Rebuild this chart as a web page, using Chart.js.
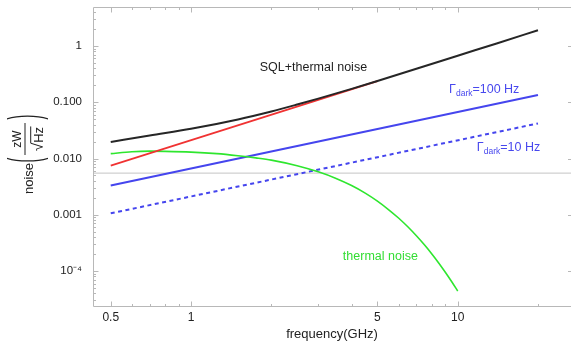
<!DOCTYPE html>
<html><head><meta charset="utf-8">
<script src="https://cdn.jsdelivr.net/npm/chart.js@4"></script>
<style>html,body{margin:0;padding:0;background:#fff}#wrap{width:571px;height:342px;position:relative}</style>
</head><body><div id="wrap"><canvas id="c" width="571" height="342"></canvas></div>
<script>
const FONT = '"Liberation Sans", Arial, Helvetica, sans-serif';

// axis ranges: frequency (GHz), noise (zW/sqrt(Hz))
const freqMin = 0.429, freqMax = 26.6;
const noiseMin = 2.39e-5, noiseMax = 4.93;

const freqTicks = [0.5, 1, 5, 10];
const freqTickLabels = ['0.5', '1', '5', '10'];
const freqMinorTicks = [0.6, 0.7, 0.8, 0.9, 2, 3, 4, 6, 7, 8, 9, 20];
const noiseTicks = [1e-4, 1e-3, 0.01, 0.1, 1];
const noiseTickLabels = ['10⁻⁴', '0.001', '0.010', '0.100', '1'];

// SQL + thermal noise (black)
const freqTotal = [0.5, 0.7, 1.0, 1.5, 2.0, 2.5, 3.0, 4.0, 5.0, 7.0, 10, 14, 20];
const totalNoise = [0.0197, 0.0257, 0.0337, 0.0494, 0.0685, 0.0910, 0.116, 0.173, 0.239, 0.393, 0.671, 1.11, 1.90];
// SQL (red)
const freqSQL = [0.5, 5];
const sqlNoise = [0.0075, 0.237];
// thermal noise (green)
const freqThermal = [0.5, 0.6, 0.7, 0.8, 1.0, 1.25, 1.5, 1.75, 2.0, 2.5, 3.0, 3.5, 4.0, 4.5, 5.0, 5.5, 6.0, 6.5, 7.0, 7.5, 8.0, 8.5, 9.0, 9.5, 10];
const thermalNoise = [0.0122, 0.0132, 0.0135, 0.0134, 0.0130, 0.0122, 0.0112, 0.01026, 0.00937, 0.00745, 0.00580, 0.00443, 0.00331, 0.00243, 0.00175, 0.00124, 0.000876, 0.000611, 0.000423, 0.000292, 0.000201, 0.000138, 0.0000943, 0.0000646, 0.000044];
// dark count lines (blue)
const freqDark = [0.5, 20];
const dark100 = [0.0033, 0.135];
const dark10 = [0.00106, 0.042];
// horizontal reference (gray)
const freqRef = [freqMin, freqMax];
const refNoise = [0.0055, 0.0055];

const annotations = [
  { parts: [['SQL+thermal noise', 0]], f: 1.81, n: 0.407, color: '#1e1e1e' },
  { parts: [['Γ', 0], ['dark', 1], ['=100 Hz', 0]], f: 9.28, n: 0.165, color: '#4848ee' },
  { parts: [['Γ', 0], ['dark', 1], ['=10 Hz', 0]], f: 11.8, n: 0.0154, color: '#4848ee' },
  { parts: [['thermal noise', 0]], f: 3.71, n: 1.79e-4, color: '#33dd33' }
];

const pts = (xs, ys) => xs.map((x, i) => ({ x: x, y: ys[i] }));

const framePlugin = {
  id: 'frame',
  afterDraw(chart) {
    const { ctx, chartArea: ca, scales } = chart;
    const xs = scales.x, ys = scales.y;
    ctx.save();
    ctx.strokeStyle = '#b8b8b8';
    ctx.lineWidth = 1;
    const L = Math.round(ca.left) + 0.5, B = Math.round(ca.bottom) + 0.5, T = Math.round(ca.top) + 0.5, R = ca.right;
    ctx.beginPath();
    ctx.moveTo(L, T); ctx.lineTo(L, B);
    ctx.moveTo(L, B); ctx.lineTo(R, B);
    ctx.moveTo(L, T); ctx.lineTo(R, T);
    const xt = (v, len) => {
      const p = Math.round(xs.getPixelForValue(v)) + 0.5;
      ctx.moveTo(p, B); ctx.lineTo(p, B - len);
      ctx.moveTo(p, T); ctx.lineTo(p, T + len);
    };
    freqTicks.forEach(v => xt(v, 5));
    freqMinorTicks.forEach(v => xt(v, 2.5));
    noiseTicks.forEach(v => {
      const p = Math.round(ys.getPixelForValue(v)) + 0.5;
      ctx.moveTo(L, p); ctx.lineTo(L + 5, p);
      ctx.moveTo(R, p); ctx.lineTo(R - 3, p);
    });
    for (let d = -5; d <= 0; d++) {
      for (let k = 2; k <= 9; k++) {
        const v = k * Math.pow(10, d);
        if (v < noiseMin || v > noiseMax) continue;
        const p = Math.round(ys.getPixelForValue(v)) + 0.5;
        ctx.moveTo(L, p); ctx.lineTo(L + 2.5, p);
      }
    }
    ctx.stroke();
    ctx.restore();
  }
};

const yTitlePlugin = {
  id: 'ytitle',
  afterDraw(chart) {
    const ctx = chart.ctx;
    ctx.save();
    ctx.translate(27, 140);
    ctx.rotate(-Math.PI / 2);
    ctx.fillStyle = '#222';
    ctx.textBaseline = 'alphabetic';
    ctx.font = '13px ' + FONT;
    ctx.textAlign = 'right';
    ctx.fillText('noise', -23, 6);
    ctx.textAlign = 'center';
    ctx.font = '44px ' + FONT;
    ctx.save(); ctx.translate(-20, 11.8); ctx.scale(0.33, 1); ctx.fillText('(', 0, 0); ctx.restore();
    ctx.save(); ctx.translate(23, 11.8); ctx.scale(0.33, 1); ctx.fillText(')', 0, 0); ctx.restore();
    ctx.fillRect(-15, -2.5, 32, 1);
    ctx.font = '12px ' + FONT;
    ctx.fillText('zW', 1, -6);
    ctx.textAlign = 'left';
    ctx.font = '15px ' + FONT;
    const wr = ctx.measureText('√').width;
    ctx.font = '13px ' + FONT;
    const wh = ctx.measureText('Hz').width;
    const u0 = 1 - (wr + wh) / 2;
    ctx.font = '15px ' + FONT;
    ctx.fillText('√', u0, 16);
    ctx.font = '13px ' + FONT;
    ctx.fillText('Hz', u0 + wr, 16);
    ctx.fillRect(u0 + wr - 0.5, 3.2, wh + 1, 1);
    ctx.restore();
  }
};

const annotationPlugin = {
  id: 'notes',
  afterDatasetsDraw(chart) {
    const { ctx, scales } = chart;
    ctx.save();
    ctx.textAlign = 'left';
    ctx.textBaseline = 'middle';
    annotations.forEach(a => {
      let x = scales.x.getPixelForValue(a.f);
      const y = scales.y.getPixelForValue(a.n);
      ctx.fillStyle = a.color;
      a.parts.forEach(([t, sub]) => {
        ctx.font = (sub ? '8.5px ' : '12.5px ') + FONT;
        ctx.fillText(t, x, sub ? y + 3.5 : y);
        x += ctx.measureText(t).width;
      });
    });
    ctx.restore();
  }
};

new Chart(document.getElementById('c'), {
  type: 'line',
  data: {
    datasets: [
      { data: pts(freqTotal, totalNoise), borderColor: '#262626', borderWidth: 2, order: 0, cubicInterpolationMode: 'monotone' },
      { data: pts(freqSQL, sqlNoise), borderColor: '#f03232', borderWidth: 1.8, order: 1 },
      { data: pts(freqThermal, thermalNoise), borderColor: '#2ee62e', borderWidth: 1.6, order: 2, cubicInterpolationMode: 'monotone' },
      { data: pts(freqDark, dark100), borderColor: '#4545ee', borderWidth: 2, order: 3 },
      { data: pts(freqDark, dark10), borderColor: '#4545ee', borderWidth: 2, borderDash: [4, 3.5], order: 4 },
      { data: pts(freqRef, refNoise), borderColor: '#c4c4c4', borderWidth: 1, order: 5 }
    ]
  },
  options: {
    responsive: false,
    animation: false,
    layout: { padding: { top: 7, right: 0, left: 0, bottom: 0 } },
    elements: { point: { radius: 0 }, line: { fill: false } },
    plugins: { legend: { display: false }, tooltip: { enabled: false } },
    scales: {
      x: {
        type: 'logarithmic', min: freqMin, max: freqMax, bounds: 'data',
        grid: { display: false, drawTicks: false }, border: { display: false },
        afterBuildTicks: s => { s.ticks = freqTicks.map(v => ({ value: v })); },
        ticks: { autoSkip: false, maxRotation: 0, padding: 4, color: '#222', font: { family: FONT, size: 12 },
          callback: v => freqTickLabels[freqTicks.indexOf(v)] },
        title: { display: true, text: 'frequency(GHz)', color: '#222', font: { family: FONT, size: 13 }, padding: { top: 5, bottom: 0 } },
        afterFit: s => { s.height = 36; s.paddingLeft = 0; s.paddingRight = 0; }
      },
      y: {
        type: 'logarithmic', min: noiseMin, max: noiseMax, bounds: 'data',
        grid: { display: false, drawTicks: false }, border: { display: false },
        afterBuildTicks: s => { s.ticks = noiseTicks.map(v => ({ value: v })); },
        ticks: { autoSkip: false, padding: 11, color: '#222', font: { family: FONT, size: 11.5 },
          callback: v => noiseTickLabels[noiseTicks.indexOf(v)] },
        afterFit: s => { s.width = 93; s.paddingTop = 0; s.paddingBottom = 0; }
      }
    }
  },
  plugins: [framePlugin, yTitlePlugin, annotationPlugin]
});
</script>
</body></html>
